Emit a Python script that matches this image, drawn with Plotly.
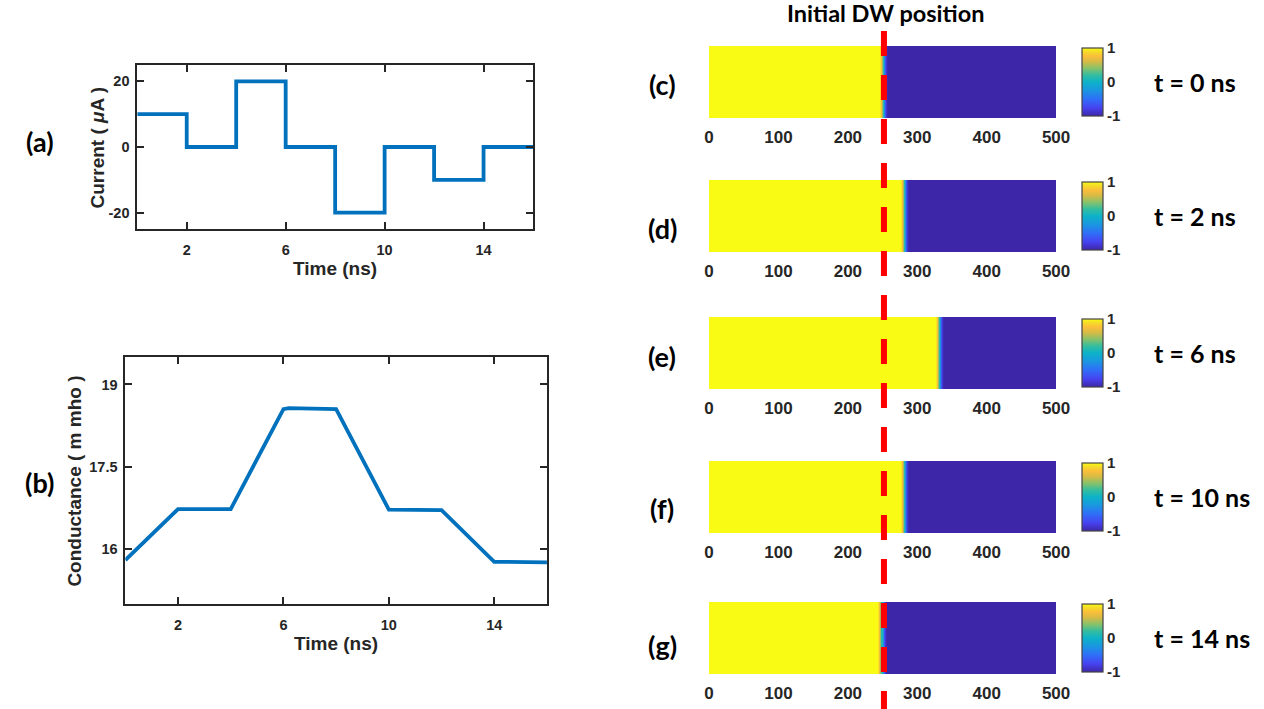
import plotly.graph_objects as go

W, H = 1264, 709

# ---------------- data ----------------
# Panel (a): applied current pulses
current_time = [0, 2, 2, 4, 4, 6, 6, 8, 8, 10, 10, 12, 12, 14, 14, 16]
current_uA = [10, 10, 0, 0, 20, 20, 0, 0, -20, -20, 0, 0, -10, -10, 0, 0]

# Panel (b): conductance response
cond_time = [0, 2, 4, 6, 6.2, 8, 10, 12, 14, 16]
cond_mmho = [15.8, 16.73, 16.73, 18.55, 18.57, 18.55, 16.72, 16.71, 15.77, 15.76]

time_ticks = [2, 6, 10, 14]
current_ticks = [-20, 0, 20]
current_tick_text = ["-20", "0", "20"]
cond_ticks = [16, 17.5, 19]
cond_tick_text = ["16", "17.5", "19"]

# Panels (c)-(g): domain-wall snapshots along the track
snapshot_labels = ["(c)", "(d)", "(e)", "(f)", "(g)"]
snapshot_times = ["t = 0 ns", "t = 2 ns", "t = 6 ns", "t = 10 ns", "t = 14 ns"]
dw_centers = [252, 282, 333, 282, 250]
initial_dw = 252
wall_offsets = [-6, -4.5, -3, -1.5, 0, 1.5, 3, 4.5, 6]
wall_values = [0.92, 0.75, 0.45, 0.1, -0.3, -0.65, -0.85, -0.97]
track_length = 500
track_ticks = [0, 100, 200, 300, 400, 500]
cbar_ticks = [-1, 0, 1]
cbar_tick_text = ["-1", "0", "1"]

parula = [
    [0.0, "#3E26A8"], [0.12, "#4743F0"], [0.25, "#2F6FF8"], [0.38, "#1A97E0"],
    [0.5, "#0DB2C8"], [0.6, "#33BDA0"], [0.7, "#86C26B"], [0.8, "#D6BB45"],
    [0.88, "#FBBE3A"], [0.95, "#F5DE27"], [1.0, "#F9FB15"],
]

BLUE = "#0072BD"
INK = "#262626"

# horizontal calibration: the captured page comes out ~1% narrower than 1264
XW = 1252


def px_x(p):
    return p / XW


def px_y(p):
    return 1 - p / H


fig = go.Figure()

# ---------------- line panels ----------------
fig.add_trace(go.Scatter(x=current_time, y=current_uA, mode="lines",
                         line=dict(color=BLUE, width=3.8), xaxis="x", yaxis="y",
                         showlegend=False))
fig.add_trace(go.Scatter(x=cond_time, y=cond_mmho, mode="lines",
                         line=dict(color=BLUE, width=3.8), xaxis="x2", yaxis="y2",
                         showlegend=False))

tick_font = dict(family="Liberation Sans", size=14.5, color=INK, weight="bold")
box_axis = dict(showline=True, linecolor=INK, linewidth=1.8, mirror="ticks",
                ticks="inside", ticklen=7, tickwidth=1.6, tickcolor=INK,
                showgrid=False, zeroline=False, tickfont=tick_font)

layout = dict(
    width=W, height=H, margin=dict(l=0, r=0, t=0, b=0),
    paper_bgcolor="white", plot_bgcolor="white", showlegend=False,
    xaxis=dict(domain=[px_x(133), px_x(531)], range=[0, 16], tickvals=time_ticks,
               anchor="y", ticklabelstandoff=7, **box_axis),
    yaxis=dict(domain=[px_y(229), px_y(65)], range=[-25, 25], tickvals=current_ticks,
               ticktext=current_tick_text, anchor="x", ticklabelstandoff=3, **box_axis),
    xaxis2=dict(domain=[px_x(121), px_x(545)], range=[0, 16], tickvals=time_ticks,
                anchor="y2", ticklabelstandoff=7, **box_axis),
    yaxis2=dict(domain=[px_y(604), px_y(357)], range=[15, 19.5], tickvals=cond_ticks,
                ticktext=cond_tick_text, anchor="x2", ticklabelstandoff=3, **box_axis),
)

annotations = []
title_font = dict(family="Liberation Sans", size=19, color=INK, weight="bold")
annotations += [
    dict(text="Time (ns)", x=px_x(332), y=px_y(268), xref="paper", yref="paper",
         showarrow=False, font=title_font, xanchor="center", yanchor="middle"),
    dict(text="Current ( <i>μ</i>A )", x=px_x(93), y=px_y(147), xref="paper", yref="paper",
         showarrow=False, font=title_font, textangle=-90, xanchor="center", yanchor="middle"),
    dict(text="Time (ns)", x=px_x(333), y=px_y(643), xref="paper", yref="paper",
         showarrow=False, font=title_font, xanchor="center", yanchor="middle"),
    dict(text="Conductance ( m mho )", x=px_x(70), y=px_y(481), xref="paper", yref="paper",
         showarrow=False, font=title_font, textangle=-90, xanchor="center", yanchor="middle"),
]

label_font = dict(family="Lato", size=27, color="black", weight="bold")
annotations += [
    dict(text="(a)", x=px_x(35), y=px_y(141), xref="paper", yref="paper",
         showarrow=False, font=label_font, xanchor="center", yanchor="middle"),
    dict(text="(b)", x=px_x(35), y=px_y(482), xref="paper", yref="paper",
         showarrow=False, font=label_font, xanchor="center", yanchor="middle"),
]

# ---------------- heatmap panels ----------------
panel_tops = [46, 180, 317, 461, 602]
panel_h = 72
letter_y = [84, 229, 356, 508, 645]

for i, (lab, tlab, c) in enumerate(zip(snapshot_labels, snapshot_times, dw_centers)):
    n = i + 3
    edges = [0] + [c + o for o in wall_offsets] + [track_length]
    zrow = [1] + wall_values + [-1]
    top = panel_tops[i]
    bottom = top + panel_h
    fig.add_trace(go.Heatmap(
        x=edges, y=[0, 1], z=[zrow], zmin=-1, zmax=1, colorscale=parula,
        xaxis=f"x{n}", yaxis=f"y{n}", hoverinfo="skip",
        colorbar=dict(
            x=px_x(1083), xanchor="left", y=px_y(top + panel_h / 2), yanchor="middle",
            lenmode="pixels", len=panel_h - 4, thickness=21, xpad=0, ypad=0,
            outlinewidth=1.2, outlinecolor="#444444",
            tickvals=cbar_ticks, ticktext=cbar_tick_text, ticks="",
            tickfont=dict(family="Liberation Sans", size=15, color=INK, weight="bold"),
        ),
    ))
    layout[f"xaxis{n}"] = dict(
        domain=[px_x(708), px_x(1057)], range=[0, track_length], anchor=f"y{n}",
        tickvals=track_ticks, ticks="", showline=False, showgrid=False, zeroline=False,
        ticklabelstandoff=7,
        tickfont=dict(family="Liberation Sans", size=17, color=INK, weight="bold"),
    )
    layout[f"yaxis{n}"] = dict(
        domain=[px_y(bottom), px_y(top)], range=[0, 1], anchor=f"x{n}", visible=False,
    )
    annotations.append(dict(text=lab, x=px_x(661), y=px_y(letter_y[i]), xref="paper",
                            yref="paper", showarrow=False, font=label_font,
                            xanchor="center", yanchor="middle"))
    annotations.append(dict(text=tlab, x=px_x(1153), y=px_y(top + panel_h / 2),
                            xref="paper", yref="paper", showarrow=False,
                            font=dict(family="Lato", size=25, color="black", weight="bold"),
                            xanchor="left", yanchor="middle"))

annotations.append(dict(text="Initial DW position", x=px_x(885), y=px_y(13), xref="paper",
                        yref="paper", showarrow=False,
                        font=dict(family="Lato", size=23.5, color="black", weight="bold"),
                        xanchor="center", yanchor="middle"))

layout["annotations"] = annotations
layout["shapes"] = [dict(type="line", xref="x3", yref="paper", x0=initial_dw, x1=initial_dw,
                         y0=px_y(31), y1=0, line=dict(color="#FF0000", width=6, dash="25px,19px"),
                         layer="above")]

fig.update_layout(**layout)
fig.write_html(
    "out.html",
    config={"displayModeBar": False},
    post_script="document.body.style.margin='0';document.body.style.overflow='hidden';",
)
